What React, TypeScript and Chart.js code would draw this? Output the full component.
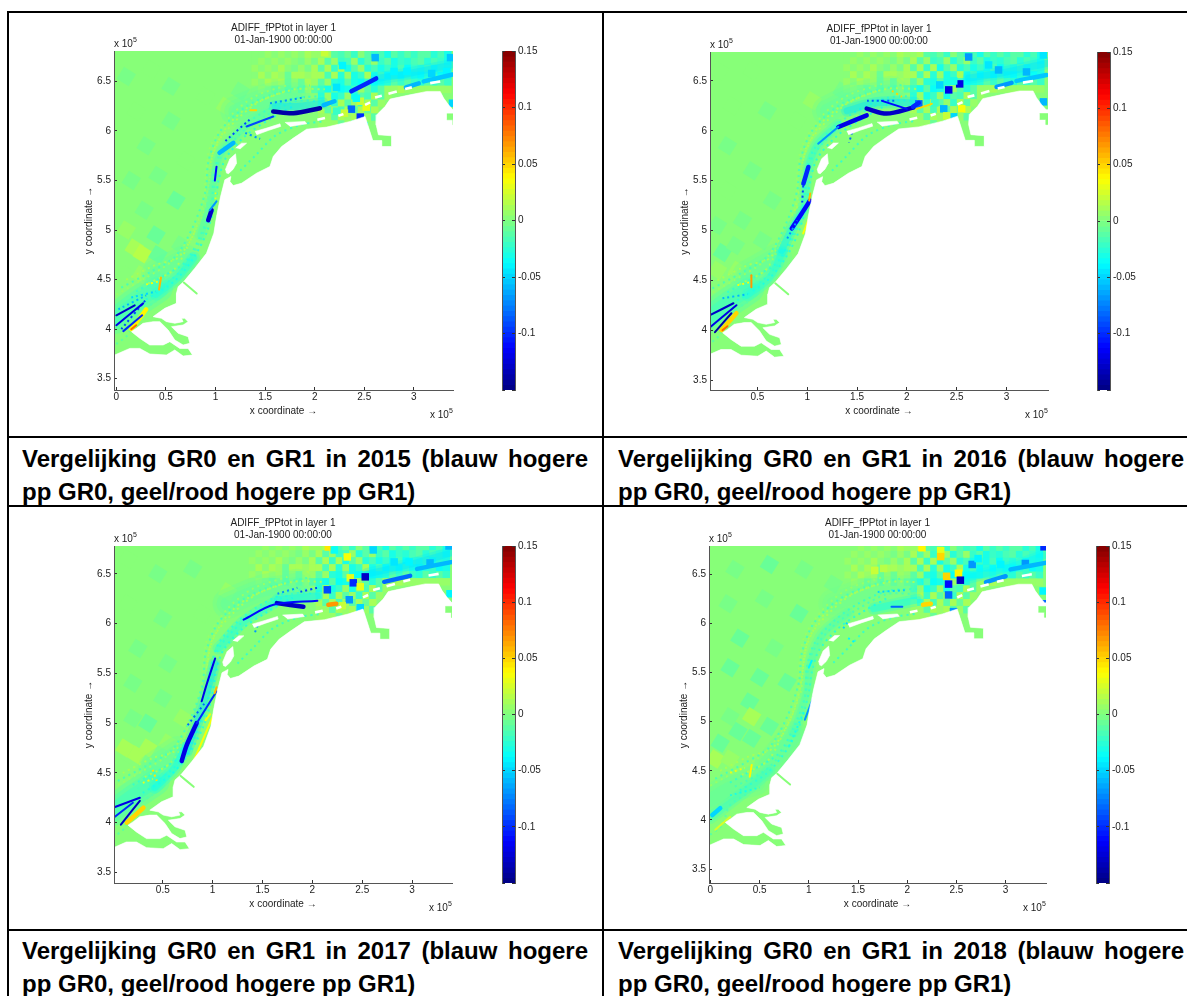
import React, { useEffect, useRef } from "react";
import { Chart, registerables } from "chart.js";
Chart.register(...registerables);

const FONT = "'Liberation Sans', Arial, sans-serif";
const TITLE_LINES = ["ADIFF_fPPtot in layer 1", "01-Jan-1900 00:00:00"];
const TICK_TEXT = "#222";
const BASE_V = 0.004;

// Shared shoreline, in units of 1e5 (east to west)
const coast: number[][] = [
  [3.394,6.214],[3.35,6.264],[3.3,6.332],[3.266,6.399],[3.131,6.399],[2.963,6.365],[2.761,6.322],[2.71,6.247],[2.626,6.163],[2.62,6.062],
  [2.643,5.961],[2.778,5.951],[2.778,5.843],[2.677,5.843],[2.677,5.904],[2.586,5.904],[2.508,6.146],[2.357,6.096],[2.121,6.039],[1.919,6.018],
  [1.785,5.928],[1.667,5.843],[1.582,5.742],[1.549,5.641],[1.414,5.574],[1.263,5.473],[1.178,5.449],[1.145,5.49],[1.155,5.54],[1.094,5.507],
  [1.051,5.338],[1.01,5.136],[0.983,4.968],[0.909,4.766],[0.791,4.614],[0.68,4.48],[0.623,4.429],[0.606,4.362],[0.606,4.261],[0.488,4.21],
  [0.37,4.126],[0.455,4.109],[0.505,4.076],[0.589,4.059],[0.673,4.076],[0.657,4.109],[0.69,4.109],[0.724,4.076],[0.673,4.042],[0.556,4.025],
  [0.623,3.958],[0.724,3.924],[0.741,3.857],[0.673,3.84],[0.589,3.891],[0.522,3.992],[0.438,4.076],[0.37,4.076],[0.269,4.059],[0.202,4.008],
  [0.152,3.975],[0.236,3.907],[0.337,3.84],[0.471,3.84],[0.539,3.874],[0.64,3.806],[0.724,3.806],[0.768,3.739],[0.673,3.729],[0.589,3.79],
  [0.505,3.739],[0.337,3.749],[0.236,3.806],[0.135,3.806],[-0.017,3.739],[-0.3,3.72],
];
const seaCorners = [[-0.3,7],[3.6,7],[3.6,6.214]];
const landCorners = [[-0.3,3],[3.6,3],[3.6,6.214]];
const eastSquare = [[3.333,6.173],[3.6,6.173],[3.6,6.062],[3.394,6.062],[3.394,6.113],[3.333,6.113]];
const spit = [[0.68,4.47],[0.81,4.36]];
const lake = [[1.111,5.574],[1.101,5.614],[1.145,5.719],[1.202,5.769],[1.212,5.675],[1.178,5.614],[1.128,5.567]];
const islandA = [[1.202,5.827],[1.263,5.877],[1.313,5.877],[1.246,5.817]];
const islandB = [[1.397,5.995],[1.515,6.029],[1.65,6.072],[1.657,6.046],[1.532,6.005],[1.414,5.961]];
const islandC = [[1.7,6.086],[1.902,6.096],[1.919,6.072],[1.751,6.046]];
const gaps: number[][] = [
  [2.027,6.113,2.104,6.13],[2.239,6.153,2.29,6.17],[2.508,6.264,2.559,6.288],[2.609,6.338,2.677,6.355],
  [2.744,6.375,2.828,6.399],[2.912,6.423,2.98,6.44],[3.165,6.483,3.266,6.5],
];

// Coarse grid north-east, common tint: one row per latitude, columns from gridX0 in steps of gridDX
const gridX0 = 2.07;
const gridDX = 0.067;
const gridRows: [number, number[]][] = [
  [6.77,[0.006,0.01,-0.01,-0.015,-0.005,-0.02,0.004,-0.012,-0.02,-0.015,-0.03,-0.012,-0.02,-0.012,-0.022,-0.01,-0.012,-0.025,-0.018,-0.03]],
  [6.7,[0.01,-0.012,0.006,-0.02,-0.018,0.008,-0.025,-0.012,0.005,-0.02,-0.012,-0.03,-0.02,-0.028,-0.018,-0.012,-0.025,-0.015,-0.02,-0.03]],
  [6.63,[-0.012,0.01,-0.02,0.012,-0.03,-0.012,0.006,-0.028,-0.015,-0.03,-0.02,-0.03,-0.018,-0.035,-0.02,-0.028,-0.018,-0.03,-0.022,-0.028]],
  [6.56,[0.012,-0.015,0.01,-0.025,0.008,-0.03,-0.02,0.01,-0.03,-0.018,-0.035,-0.025,-0.035,-0.02,-0.03,-0.035,-0.025,-0.02,-0.035,-0.03]],
  [6.49,[-0.012,0.008,-0.025,-0.03,-0.012,-0.03,-0.035,-0.02,-0.035,-0.03,-0.025,-0.012,-0.02,-0.012,-0.02,-0.025,-0.012,-0.02,-0.012,-0.02]],
  [6.42,[-0.02,-0.03,-0.012,-0.035,-0.03,-0.02,0.008,-0.012,-0.025,-0.012,0.006,0.008,0.01,0.008,0.006,0.008,0.006,0.008,0.006,0.008]],
  [6.35,[-0.025,0.008,-0.03,-0.02,0.006,-0.03,-0.012,-0.018,0.01,-0.012,0.008]],
  [6.28,[-0.012,0.01,-0.02,0.012,-0.012,0.008,-0.02,0.01,-0.012,0.008]],
  [6.21,[0.01,-0.012,0.012,-0.015,0.01,-0.012,0.012,-0.008,0.01]],
  [6.14,[0.008,0.006,-0.01,0.01,0.006,0.012,-0.012,0.008,-0.01]],
  [6.07,[0.006,0.008,0.006,-0.006,0.008,-0.01,0.006]],
];
const nwGridX0 = 1.4;
const nwGridRows: [number, number[]][] = [
  [6.77,[0.004,0.001,0.005,0.002,0.006,0.003,0.007,0.004,0.01,0.005]],
  [6.7,[0.002,0.006,0.002,0.008,0.003,0.008,0.004,-0.004,0.006,-0.004]],
  [6.63,[0.005,0.002,0.008,0.003,0.01,0.002,-0.004,0.008,-0.004,0.01]],
  [6.56,[0.002,0.01,0.003,0.012,0.006,-0.008,0.01,0.012,0.006,0.012]],
  [6.49,[0.006,0.002,0.012,0.006,0.012,-0.005,0.008,-0.006,0.012,0.006]],
  [6.42,[0.002,0.008,0.002,-0.006,0.004,-0.012,0.005,-0.012,0.006,-0.012]],
];

// Coarse offshore cells per year [x, y, value]
const west2015 = [[0.1,6.55,-0.003],[0.35,6.62,0],[0.55,6.45,-0.003],[0.2,6.2,0.001],[0.55,6.1,-0.004],[0.9,6.35,0],[0.3,5.85,-0.004],[0.15,5.5,-0.003],[0.42,5.55,-0.004],[0.7,5.7,0.001],[0.28,5.2,-0.004],[0.6,5.3,-0.005],[0.4,4.95,-0.006],[0.18,4.82,0.014],[0.26,4.76,0.015],[0.1,5.0,0.008],[0.42,4.75,-0.006],[0.1,4.55,0.003],[1.1,6.25,0.009],[1.25,6.4,-0.003],[0.65,4.85,-0.004],[0.25,4.55,0.008]];
const west2016 = [[0.12,6.6,0],[0.45,6.6,0.001],[0.25,6.25,0],[0.6,6.2,-0.002],[0.9,6.1,0],[0.2,5.85,-0.002],[0.45,5.6,-0.003],[0.2,5.4,0],[0.1,5.05,-0.003],[0.35,5.1,-0.003],[0.65,5.3,-0.004],[0.15,4.78,-0.006],[0.28,4.85,-0.003],[0.1,4.6,0.008],[0.3,4.6,0.006],[0.55,4.9,-0.002],[1.05,6.3,0.005],[1.35,6.4,-0.002]];
const west2017 = [[0.15,6.65,0.001],[0.45,6.5,-0.002],[0.8,6.55,-0.002],[0.15,6.2,0],[0.5,6.05,-0.003],[0.9,6.1,0],[0.25,5.75,-0.003],[0.55,5.6,-0.002],[0.2,5.4,-0.003],[0.5,5.25,-0.004],[0.2,5.05,-0.002],[0.35,5.0,-0.005],[0.12,4.75,0.012],[0.24,4.68,0.014],[0.35,4.75,0.01],[0.1,4.55,0.004],[1.15,6.32,0.006],[0.55,4.8,0.007],[0.7,5.05,0.006]];
const west2018 = [[0.25,6.55,-0.003],[0.6,6.6,-0.005],[0.95,6.55,-0.003],[0.18,6.2,-0.004],[0.55,6.25,-0.004],[0.9,6.1,-0.005],[0.3,5.85,-0.005],[0.65,5.75,-0.003],[0.2,5.55,-0.006],[0.5,5.45,-0.007],[0.78,5.4,-0.005],[0.4,5.2,-0.006],[0.42,5.05,0.013],[0.2,5.05,-0.004],[0.28,4.9,-0.007],[0.42,4.83,-0.008],[0.1,4.78,-0.006],[0.05,4.62,0.012],[0.2,4.62,0.006],[0.6,4.95,-0.006],[1.25,6.4,-0.003]];

const ne2015 = [[2.1,6.79,0.02],[2.22,6.44,-0.045],[2.28,6.66,-0.038],[2.61,6.74,-0.06],[2.8,6.6,-0.04],[2.93,6.6,-0.04],[3.18,6.58,-0.05],[3.33,6.6,-0.04],[3.37,6.74,-0.055],[2.37,6.22,-0.08],[2.46,6.14,-0.1],[2.52,6.24,0.03],[2.46,6.3,0.02],[2.42,6.33,-0.035],[2.3,6.18,0.02],[2.22,6.2,-0.02],[2.5,6.05,-0.03],[3.39,6.28,-0.05]];
const ne2016 = [[2.62,6.74,-0.07],[2.82,6.66,-0.045],[2.92,6.61,-0.06],[3.2,6.59,-0.06],[3.37,6.76,-0.045],[2.53,6.47,-0.12],[2.42,6.41,-0.12],[2.33,6.46,-0.05],[2.47,6.5,-0.03],[2.12,6.27,-0.08],[2.37,6.22,-0.06],[2.47,6.14,-0.05],[2.55,6.22,0.035],[2.4,6.15,0.02],[2.28,6.28,-0.02],[3.37,6.29,-0.06]];
const ne2017 = [[2.16,6.77,0.045],[2.22,6.74,-0.035],[2.15,6.34,-0.09],[2.35,6.67,0.035],[2.38,6.46,0.03],[2.41,6.41,-0.1],[2.53,6.47,-0.13],[2.48,6.37,0.03],[2.61,6.74,-0.05],[2.82,6.62,-0.045],[2.97,6.62,-0.04],[3.18,6.61,-0.06],[3.37,6.78,-0.06],[2.37,6.24,-0.07],[2.48,6.16,-0.05],[2.3,6.18,0.02],[3.38,6.3,-0.04]];
const ne2018 = [[1.67,6.54,0.022],[1.76,6.56,0.018],[2.15,6.77,0.04],[2.34,6.74,0.03],[2.34,6.68,0.05],[2.4,6.48,0.05],[2.52,6.51,0.04],[2.54,6.44,-0.13],[2.42,6.4,-0.11],[2.66,6.6,-0.07],[2.72,6.66,-0.04],[2.95,6.6,-0.04],[3.2,6.61,-0.07],[3.39,6.78,-0.1],[2.42,6.29,-0.08],[2.47,6.12,-0.07],[3.38,6.33,-0.04],[3.38,6.2,-0.08]];

// Fine speckle paths shared by all years: [value, x, y, x, y, ...]
const speckle = [
  [0.011,0.1,4.5,0.4,4.65,0.62,4.72,0.8,5.0,0.92,5.3,0.95,5.6,1.0,5.85,1.2,6.1,1.45,6.3,1.8,6.42,2.1,6.42],
  [-0.022,0.2,4.38,0.5,4.55,0.7,4.68,0.85,4.95,0.96,5.25,0.98,5.55,1.06,5.8,1.25,6.02,1.5,6.2,1.8,6.33,2.1,6.35],
  [-0.026,0.3,4.3,0.58,4.48,0.78,4.72,0.92,5.0,1.0,5.3,1.03,5.5,1.1,5.72,1.3,5.95,1.55,6.12,1.8,6.26],
  [0.009,0.0,4.35,0.3,4.52,0.55,4.68,0.75,4.95,0.88,5.25,0.9,5.55,0.95,5.85,1.15,6.15,1.4,6.35,1.75,6.47],
  [-0.015,0.05,4.42,0.35,4.58,0.6,4.74,0.78,5.05,0.9,5.4,0.93,5.7,1.05,6.0,1.3,6.24,1.6,6.38,1.95,6.46],
  [-0.018,0.25,4.34,0.55,4.5,0.74,4.7,0.89,5.0,0.98,5.35,1.0,5.6,1.08,5.78,1.28,6.0,1.52,6.16,1.8,6.3,2.05,6.3],
  [0.012,0.32,4.46,0.58,4.6,0.72,4.84,0.86,5.15,0.93,5.45,0.97,5.75,1.12,6.05,1.36,6.26,1.7,6.4],
  [-0.02,1.25,5.6,1.4,5.75,1.6,5.95,1.85,6.06,2.1,6.1],
  [-0.012,0.0,3.85,0.12,3.95,0.2,4.15,0.4,4.28],
];

// Streaks per year: [value, x, y, x, y, ...]
const wash2015 = [[-0.028,-0.02,4.1,0.2,4.27,0.42,4.42],[-0.012,0.4,4.55,0.7,4.7],[-0.012,1.2,6.2,1.5,6.32,1.8,6.38]];
const haze2015 = [[-0.03,0.4,4.35,0.62,4.52,0.78,4.72],[-0.018,0.85,4.95,0.94,5.25,0.98,5.5,1.04,5.75,1.2,5.95,1.4,6.12,1.6,6.22],[-0.045,1.6,6.25,1.85,6.25,2.08,6.28],[-0.045,2.62,6.53,2.95,6.58,3.4,6.67]];
const band2015 = [[-0.14,1.582,6.197,1.785,6.18,2.054,6.23],[-0.06,2.09,6.26,2.2,6.3],[-0.1,2.37,6.4,2.62,6.53],[-0.06,1.04,5.78,1.18,5.88],[-0.13,0.926,5.1,0.96,5.2],[0.04,0.15,4.0,0.25,4.13,0.3,4.2],[-0.06,2.92,6.44,3.05,6.48],[-0.055,3.1,6.5,3.39,6.57]];
const core2015 = [[-0.09,1.313,6.045,1.582,6.146],[-0.11,1.01,5.64,0.993,5.5],[-0.07,1.01,5.29,0.94,5.2],[-0.12,0,4.04,0.27,4.26],[-0.13,0,4.14,0.185,4.24],[-0.1,0.07,3.98,0.26,4.14],[0.06,0.43,4.4,0.45,4.52],[0.05,1.35,6.21,1.41,6.21],[0.08,0.15,4.0,0.2,4.04]];
const fleck2015 = [[-0.09,1.1,5.9,1.35,6.12],[-0.07,1.55,6.28,1.9,6.34],[0.03,1.0,5.38,1.0,5.28],[0.035,0.3,4.45,0.42,4.48],[-0.05,0.15,4.32,0.4,4.38],[-0.09,0.05,4.0,0.3,4.3],[-0.07,1.3,5.98,1.45,5.92],[-0.06,0.02,4.2,0.3,4.34]];

const wash2016 = [[-0.025,0,4.12,0.2,4.27,0.42,4.42],[-0.012,0.4,4.55,0.7,4.72],[-0.014,1.2,6.2,1.5,6.34,1.85,6.4]];
const haze2016 = [[-0.03,0.4,4.35,0.62,4.52,0.75,4.78],[-0.04,0.744,4.8,0.845,5.02,0.96,5.2],[-0.025,0.97,5.25,1.0,5.6,1.11,5.87,1.31,6.06],[-0.045,1.4,6.2,1.7,6.28,2.08,6.28],[-0.045,2.62,6.53,2.95,6.58,3.42,6.68]];
const band2016 = [[-0.13,1.597,6.222,1.798,6.172,2.065,6.232],[-0.12,1.313,6.038,1.597,6.155],[-0.1,1.012,5.637,0.962,5.47],[-0.11,1.028,5.3,0.945,5.17,0.845,5.02],[-0.07,2.9,6.44,3.05,6.48],[-0.055,3.1,6.5,3.4,6.56],[0.05,0.14,4.0,0.29,4.17],[-0.1,2.12,6.28,2.06,6.24]];
const core2016 = [[-0.07,1.11,5.87,1.313,6.04],[-0.13,0.025,4.15,0.26,4.27],[-0.12,0.025,4.03,0.29,4.25],[-0.14,0.075,3.98,0.24,4.17],[0.07,0.44,4.55,0.44,4.43],[0.06,1.03,5.37,1.02,5.3],[0.035,1.01,5.1,0.96,4.97],[0.08,0.15,4.0,0.2,4.04],[-0.11,1.75,6.3,2.0,6.22],[0.05,2.1,6.22,2.25,6.27]];
const fleck2016 = [[-0.09,0.96,5.45,0.95,5.28],[-0.08,1.45,5.98,1.42,5.88],[-0.07,0.8,4.92,0.9,5.1],[0.035,0.3,4.45,0.42,4.48],[-0.06,0.15,4.32,0.4,4.36],[-0.08,1.6,6.3,1.9,6.3],[0.05,1.85,6.4,1.95,6.34]];

const wash2017 = [[-0.028,0,4.12,0.2,4.27,0.42,4.42],[-0.014,0.4,4.55,0.65,4.72],[-0.012,1.15,6.2,1.5,6.34,1.85,6.4]];
const haze2017 = [[-0.035,0.42,4.35,0.62,4.55,0.72,4.75],[-0.045,0.74,4.72,0.84,5.0,0.94,5.3,1.02,5.6],[-0.03,1.06,5.75,1.31,6.02,1.6,6.2],[-0.04,1.65,6.24,2.05,6.28],[-0.045,2.55,6.5,3.0,6.6,3.42,6.72]];
const band2017 = [[-0.13,1.644,6.206,1.91,6.17],[-0.12,0.84,5.0,0.74,4.78,0.69,4.62],[-0.08,2.72,6.42,2.98,6.48],[-0.06,3.05,6.55,3.4,6.62],[0.05,0.14,4.0,0.306,4.15],[0.07,2.16,6.19,2.24,6.2]];
const core2017 = [[-0.11,1.31,6.04,1.61,6.19,2.05,6.23],[-0.12,1.025,5.65,0.94,5.39,0.89,5.22],[-0.1,1.04,5.32,0.84,5.0],[0.035,0.975,5.09,0.93,5.03],[0.035,1.025,5.12,0.81,4.62],[-0.12,0,4.15,0.27,4.25],[-0.13,0.08,3.98,0.27,4.22],[-0.1,0.02,4.06,0.2,4.2],[0.06,1.04,5.36,1.02,5.3]];
const fleck2017 = [[-0.09,1.88,6.32,2.05,6.36],[0.045,0.4,4.53,0.44,4.42],[-0.07,1.45,5.98,1.42,5.9],[-0.07,1.65,6.3,1.85,6.36],[0.03,0.3,4.4,0.4,4.44],[-0.08,0.75,4.98,0.92,5.2]];

const wash2018 = [[-0.014,0,4.2,0.2,4.32,0.45,4.4],[-0.01,0.6,4.55,0.85,4.85],[-0.008,1.25,6.2,1.7,6.35,2,6.38]];
const haze2018 = [[-0.02,0.0,4.02,0.3,4.25,0.6,4.5],[-0.016,0.85,4.9,0.98,5.3,1.02,5.6,1.15,5.9,1.4,6.1],[-0.035,1.66,6.15,1.9,6.2,2.11,6.24],[-0.04,2.6,6.46,3.0,6.56,3.42,6.7]];
const band2018 = [[-0.07,2.8,6.42,3.0,6.48],[-0.06,3.05,6.55,3.42,6.62],[-0.05,0.02,4.05,0.1,4.12],[0.05,2.16,6.19,2.24,6.2]];
const core2018 = [[-0.08,1.84,6.17,1.95,6.17],[-0.07,0.96,5.02,1.05,5.26],[-0.04,1.0,5.55,1.03,5.62],[0.04,0.42,4.56,0.4,4.44],[0.025,0.05,3.9,0.2,4.03]];
const fleck2018 = [[-0.05,1.7,6.32,2.0,6.34],[-0.05,1.35,5.95,1.4,6.02],[-0.03,0.2,4.25,0.5,4.33],[-0.03,0.8,4.75,0.95,5.1],[0.03,0.2,4.48,0.35,4.53],[-0.04,1.4,5.85,1.48,5.8]];

// Colour bar
const barMin = -0.15;
const barMax = 0.15;
const barLevels = Array.from({ length: 64 }, (_, i) => i);

const jet = (v: number, alpha = 1) => {
  const n = Math.min(63, Math.max(0, Math.floor(((v - barMin) / (barMax - barMin)) * 64)));
  const t = (n + 0.5) / 64;
  const c = (k: number) => Math.round(255 * Math.min(1, Math.max(0, 1.5 - Math.abs(4 * t - k))));
  return `rgba(${c(3)},${c(2)},${c(1)},${alpha})`;
};

const toPts = (a: number[][]) => a.map(([x, y]) => ({ x, y }));
const flat = (a: number[]) => {
  const out = [];
  for (let i = 0; i + 1 < a.length; i += 2) out.push({ x: a[i], y: a[i + 1] });
  return out;
};
const gridCells = (rows: [number, number[]][], x0: number) =>
  rows.flatMap(([y, vals]) => vals.map((v, i) => [x0 + i * gridDX, y, v]));

type Panel = {
  year: number; L: number; R: number; T: number; B: number; barX: number;
  xMin: number; xMax: number; yMin: number; yMax: number;
  west: number[][]; ne: number[][]; wash: number[][]; haze: number[][]; band: number[][]; core: number[][]; fleck: number[][];
  capY: number; capX: number;
};

const panels: Panel[] = [
  { year: 2015, L: 114, R: 453, T: 51, B: 390, barX: 502, xMin: -0.024, xMax: 3.395, yMin: 3.386, yMax: 6.807, west: west2015, ne: ne2015, wash: wash2015, haze: haze2015, band: band2015, core: core2015, fleck: fleck2015, capX: 22, capY: 441.5 },
  { year: 2016, L: 710, R: 1048, T: 52, B: 390, barX: 1097, xMin: 0.025, xMax: 3.416, yMin: 3.4, yMax: 6.79, west: west2016, ne: ne2016, wash: wash2016, haze: haze2016, band: band2016, core: core2016, fleck: fleck2016, capX: 618, capY: 441.5 },
  { year: 2017, L: 114, R: 452, T: 546, B: 883, barX: 502, xMin: 0.011, xMax: 3.4, yMin: 3.394, yMax: 6.78, west: west2017, ne: ne2017, wash: wash2017, haze: haze2017, band: band2017, core: core2017, fleck: fleck2017, capX: 22, capY: 933.5 },
  { year: 2018, L: 709, R: 1046, T: 546, B: 883, barX: 1096, xMin: -0.014, xMax: 3.41, yMin: 3.358, yMax: 6.788, west: west2018, ne: ne2018, wash: wash2018, haze: haze2018, band: band2018, core: core2018, fleck: fleck2018, capX: 618, capY: 933.5 },
];

const mapDatasets = (p: Panel) => {
  const base = jet(BASE_V);
  const poly = (pts: number[][], color: string) => ({
    data: toPts(pts), showLine: true, fill: "shape", backgroundColor: color, borderColor: color,
    borderWidth: 0.6, pointRadius: 0, tension: 0,
  });
  const cells = (a: number[][], radius: number, rot: number) => ({
    data: a.map(([x, y]) => ({ x, y })), showLine: false, pointStyle: "rect", pointRadius: radius, pointRotation: rot,
    pointBackgroundColor: a.map((c) => jet(c[2])), pointBorderWidth: 0, pointBorderColor: "transparent",
  });
  const stroke = (a: number[][], width: number, dash: number[] = [], butt = false, alpha = 1) =>
    a.map((s) => ({
      data: flat(s.slice(1)), showLine: true, fill: false, borderColor: jet(s[0], alpha), borderWidth: width, borderDash: dash,
      borderCapStyle: butt ? "butt" : "round", borderJoinStyle: "round", pointRadius: 0, tension: 0.3,
    }));
  const list: any[] = [
    poly([...seaCorners, ...coast], base),
    cells(p.west, 10, 32),
    cells(gridCells(nwGridRows, nwGridX0), 5.3, 0),
    cells(gridCells(gridRows, gridX0), 5.3, 0),
    ...stroke(p.wash, 30, [], false, 0.22),
    ...stroke(p.wash, 22, [], false, 0.25),
    ...stroke(p.wash, 14, [], false, 0.3),
    ...stroke(speckle, 2, [2, 4], true, 0.9),
    ...stroke(speckle, 1.5, [1, 5], true, 0.8),
    ...stroke(p.haze, 12, [], false, 0.25),
    ...stroke(p.haze, 7, [], false, 0.4),
    cells(p.ne, 5.3, 0),
    ...stroke(p.band, 4.5),
    ...stroke(p.fleck, 2, [2, 3], true),
    ...stroke(p.core, 2),
    poly([...coast, ...landCorners], "#ffffff"),
    poly(eastSquare, base),
    ...stroke([[BASE_V, ...spit.flat()]], 2),
    poly(lake, "#ffffff"),
    poly(islandA, "#ffffff"),
    poly(islandB, "#ffffff"),
    poly(islandC, "#ffffff"),
    ...gaps.map((g) => ({
      data: flat(g), showLine: true, fill: false, borderColor: "#ffffff", borderWidth: 2.6, pointRadius: 0,
    })),
  ];
  return list.map((d, i) => ({ ...d, order: list.length - i }));
};

const PAD = 16;

function MapPanel({ p }: { p: Panel }) {
  const mapRef = useRef<HTMLCanvasElement>(null);
  const barRef = useRef<HTMLCanvasElement>(null);
  useEffect(() => {
    const font = { family: FONT, size: 10 };
    const axisGrid = { drawOnChartArea: false, drawTicks: true, tickLength: -3, tickColor: "#333", z: 1 };
    const border = { display: true, color: "#555", width: 1, z: 1 };
    const map = new Chart(mapRef.current!, {
      type: "scatter",
      data: { datasets: mapDatasets(p) as any },
      options: {
        animation: false, responsive: false, events: [],
        layout: { autoPadding: false, padding: { top: PAD, right: 10, left: 0, bottom: 0 } },
        plugins: { legend: { display: false }, tooltip: { enabled: false } },
        scales: {
          x: {
            type: "linear", min: p.xMin, max: p.xMax, position: "bottom",
            grid: axisGrid as any, border: border as any,
            afterFit: (s: any) => { s.height = 27; },
            ticks: { stepSize: 0.5, includeBounds: false, maxRotation: 0, autoSkip: false, padding: 4, color: TICK_TEXT, font, callback: (v: any) => String(Number(Number(v).toFixed(1))) },
            title: { display: true, text: "x coordinate →", color: TICK_TEXT, font, padding: 0 },
          },
          y: {
            type: "linear", min: p.yMin, max: p.yMax, position: "left",
            grid: axisGrid as any, border: border as any,
            afterFit: (s: any) => { s.width = 31; },
            ticks: { stepSize: 0.5, includeBounds: false, autoSkip: false, padding: 6, color: TICK_TEXT, font, callback: (v: any) => String(Number(Number(v).toFixed(1))) },
            title: { display: true, text: "y coordinate →", color: TICK_TEXT, font, padding: 0 },
          },
        },
      },
    });
    const bar = new Chart(barRef.current!, {
      type: "bar",
      data: {
        labels: [""],
        datasets: barLevels.map((n) => {
          const step = (barMax - barMin) / 64;
          const lo = barMin + n * step;
          return {
            data: [[lo, lo + step * 1.03]] as any, backgroundColor: jet(lo + step / 2), borderWidth: 0,
            grouped: false, barPercentage: 1, categoryPercentage: 1, order: 64 - n,
          };
        }),
      },
      options: {
        animation: false, responsive: false, events: [],
        layout: { autoPadding: false, padding: { top: PAD, bottom: PAD, left: 0, right: 0 } },
        plugins: { legend: { display: false }, tooltip: { enabled: false } },
        scales: {
          x: { display: false, stacked: false },
          y: {
            type: "linear", position: "right", min: barMin, max: barMax,
            grid: axisGrid as any, border: border as any,
            afterFit: (s: any) => { s.width = 40; },
            ticks: { stepSize: 0.05, includeBounds: false, autoSkip: false, padding: 6, color: TICK_TEXT, font, callback: (v: any) => { const n = Number(Number(v).toFixed(2)); return n <= -0.15 ? "" : String(n); } },
          },
          yl: {
            type: "linear", position: "left", min: barMin, max: barMax,
            grid: axisGrid as any, border: border as any,
            afterFit: (s: any) => { s.width = 6; },
            ticks: { stepSize: 0.05, includeBounds: false, autoSkip: false, padding: 0, callback: () => "" },
          },
        },
      },
    });
    return () => { map.destroy(); bar.destroy(); };
  }, [p]);
  const cx = (p.L + p.R) / 2;
  const small: React.CSSProperties = { position: "absolute", font: `10px ${FONT}`, color: TICK_TEXT, whiteSpace: "nowrap", lineHeight: "12px" };
  const sup: React.CSSProperties = { fontSize: 7, position: "relative", top: -5, verticalAlign: "baseline" };
  return (
    <>
      <canvas ref={mapRef} width={p.R - p.L + 41} height={p.B - p.T + 27 + PAD} style={{ position: "absolute", left: p.L - 31, top: p.T - PAD, display: "block" }} />
      <canvas ref={barRef} width={13 + 46} height={p.B - p.T + 2 * PAD} style={{ position: "absolute", left: p.barX - 6, top: p.T - PAD, display: "block" }} />
      <div style={{ ...small, left: cx - 100, width: 200, top: p.T - 29, textAlign: "center" }}>{TITLE_LINES[0]}<br />{TITLE_LINES[1]}</div>
      <div style={{ ...small, left: p.L, top: p.T - 13 }}>x 10<span style={sup}>5</span></div>
      <div style={{ ...small, left: p.R - 23, top: p.B + 19 }}>x 10<span style={sup}>5</span></div>
      <div style={{ position: "absolute", left: p.capX, top: p.capY, width: 566, font: `bold 24px ${FONT}`, lineHeight: "33px", color: "#000" }}>
        <div style={{ textAlign: "justify", textAlignLast: "justify", whiteSpace: "normal" }}>{`Vergelijking GR0 en GR1 in ${p.year} (blauw hogere`}</div>
        <div style={{ whiteSpace: "nowrap" }}>pp GR0, geel/rood hogere pp GR1)</div>
      </div>
    </>
  );
}

const hLines = [11, 436, 505, 929];
const vLines = [7, 602];

export default function App() {
  return (
    <div style={{ position: "fixed", left: 0, top: 0, width: 1187, height: 996, overflow: "hidden", background: "#fff", filter: "blur(0.45px)" }}>
      {panels.map((p) => <MapPanel key={p.year} p={p} />)}
      {hLines.map((y) => <div key={y} style={{ position: "absolute", left: 7, top: y, width: 1180, height: 2, background: "#000" }} />)}
      {vLines.map((x) => <div key={x} style={{ position: "absolute", left: x, top: 11, width: 2, height: 985, background: "#000" }} />)}
    </div>
  );
}
